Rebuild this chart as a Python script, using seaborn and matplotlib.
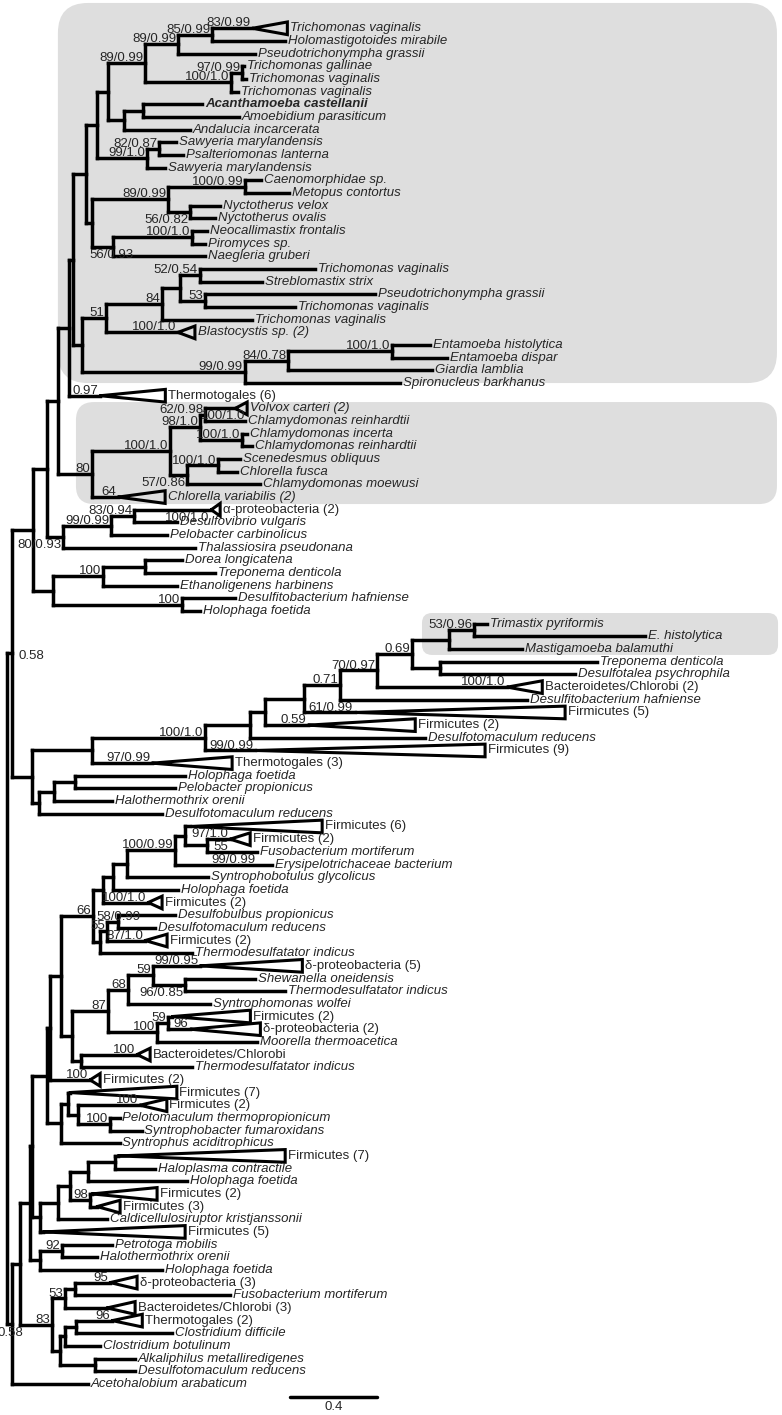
import re
import matplotlib
matplotlib.use("Agg")
import matplotlib.pyplot as plt
import pandas as pd
import seaborn as sns
from matplotlib import font_manager
from matplotlib.patches import FancyBboxPatch
from matplotlib.transforms import IdentityTransform

# Subtrees in Newick form, branch lengths in substitutions/site.
# [&...] comments hold support values (keyed by where they sit on the branch)
# and the depth of collapsed clades, FigTree style.
TRICHOMONADS = (
    "((((('Trichomonas vaginalis'[&collapsed=0.161,above=83/0.99]:0.184,"
    "'Holomastigotoides mirabile':0.336)[&above=85/0.99]:0.156,"
    "'Pseudotrichonympha grassii':0.354)[&above=89/0.99]:0.152,"
    "(('Trichomonas gallinae':0.009,'Trichomonas vaginalis':0.018)[&above=97/0.99]:0.051,"
    "'Trichomonas vaginalis':0.032)[&above=100/1.0]:0.395)[&above=89/0.99]:0.170,"
    "(('Acanthamoeba castellanii':0.271,'Amoebidium parasiticum':0.441):0.087,"
    "'Andalucia incarcerata':0.303):0.074):0.051,"
    "(('Sawyeria marylandensis':0.078,'Psalteriomonas lanterna':0.110)[&above=82/0.87]:0.055,"
    "'Sawyeria marylandensis':0.083)[&above=99/1.0]:0.230)"
)

CILIATES_FUNGI = (
    "((('Caenomorphidae sp.':0.074,'Metopus contortus':0.202)[&above=100/0.99]:0.354,"
    "('Nyctotherus velox':0.138,'Nyctotherus ovalis':0.115)[&below=56/0.82]:0.101)"
    "[&above=89/0.99]:0.349,"
    "(('Neocallimastix frontalis':0.069,'Piromyces sp.':0.060)[&above=100/1.0]:0.363,"
    "'Naegleria gruberi':0.423)[&under=56/0.93]:0.097)"
)

PARASITES = (
    "((((('Trichomonas vaginalis':0.529,'Streblomastix strix':0.285)[&above=52/0.54]:0.092,"
    "('Pseudotrichonympha grassii':0.782,'Trichomonas vaginalis':0.414)[&above=53]:0.115):0.083,"
    "'Trichomonas vaginalis':0.414)[&above=84]:0.257,"
    "'Blastocystis sp. (2)'[&collapsed=0.078,above=100/1.0]:0.331)[&above=51]:0.110,"
    "((('Entamoeba histolytica':0.175,'Entamoeba dispar':0.253)[&above=100/1.0]:0.478,"
    "'Giardia lamblia':0.662)[&above=84/0.78]:0.198,"
    "'Spironucleus barkhanus':0.713)[&above=99/0.99]:0.749)"
)

GREEN_ALGAE = (
    "(((('Volvox carteri (2)'[&collapsed=0.055,belowtip=100/1.0]:0.138,"
    "'Chlamydomonas reinhardtii':0.184)[&above=62/0.98]:0.023,"
    "('Chlamydomonas incerta':0.023,'Chlamydomonas reinhardtii':0.046)[&above=100/1.0]:0.193)"
    "[&above=98/1.0]:0.138,"
    "(('Scenedesmus obliquus':0.101,'Chlorella fusca':0.087)[&above=100/1.0]:0.143,"
    "'Chlamydomonas moewusi':0.336)[&below=57/0.86]:0.078)[&above=100/1.0]:0.359,"
    "'Chlorella variabilis (2)'[&collapsed=0.216,above=64]:0.120)[&above=80]"
)

PROTEOBACTERIA = (
    "((('α-proteobacteria (2)'[&collapsed=0.041,below=100/1.0]:0.354,"
    "'Desulfovibrio vulgaris':0.198)[&above=83/0.94]:0.106,"
    "'Pelobacter carbinolicus':0.257)[&above=99/0.99]:0.221,"
    "'Thalassiosira pseudonana':0.607)[&below=80/0.93]"
)

CLOSTRIDIA = (
    "((('Dorea longicatena':0.170,'Treponema denticola':0.322):0.193,"
    "'Ethanoligenens harbinens':0.340)[&above=100]:0.230,"
    "('Desulfitobacterium hafniense':0.244,'Holophaga foetida':0.083)[&above=100]:0.593)"
)

ARCHAMOEBAE_GROUP = (
    "((((((((((('Trimastix pyriformis':0.060,'E. histolytica':0.786)[&above=53/0.96]:0.115,"
    "'Mastigamoeba balamuthi':0.336):0.170,"
    "('Treponema denticola':0.722,'Desulfotalea psychrophila':0.621):0.129)[&above=0.69]:0.161,"
    "'Bacteroidetes/Chlorobi (2)'[&collapsed=0.161,above=100/1.0]:0.598)[&above=70/0.97]:0.170,"
    "'Desulfitobacterium hafniense':0.860)[&above=0.71]:0.166,"
    "'Firmicutes (5)'[&collapsed=0.966,above=61/0.99]:0.234):0.179,"
    "'Firmicutes (2)'[&collapsed=0.492,above=0.59]:0.198):0.069,"
    "'Desulfotomaculum reducens':0.805):0.207,"
    "'Firmicutes (9)'[&collapsed=1.057,above=99/0.99]:0.230)[&above=100/1.0]:0.520,"
    "'Thermotogales (3)'[&collapsed=0.368,above=97/0.99]:0.276):0.276,"
    "((('Holophaga foetida':0.506,'Pelobacter propionicus':0.460):0.097,"
    "'Halothermothrix orenii':0.267):0.069,'Desulfotomaculum reducens':0.566):0.032)"
)

FIRMICUTES_1 = (
    "((((((('Firmicutes (6)'[&collapsed=0.607]:0.023,"
    "('Firmicutes (2)'[&collapsed=0.092,above=97/1.0,below=55]:0.106,"
    "'Fusobacterium mortiferum'[&below=99/0.99]:0.230):0.101):0.046,"
    "'Erysipelotrichaceae bacterium':0.446)[&above=100/0.99]:0.221,"
    "'Syntrophobotulus glycolicus':0.372):0.064,'Holophaga foetida':0.299):0.046,"
    "'Firmicutes (2)'[&collapsed=0.064,above=100/1.0]:0.207):0.046,"
    "((('Desulfobulbus propionicus':0.262,'Desulfotomaculum reducens':0.170)[&top=58/0.99]:0.051,"
    "'Firmicutes (2)'[&collapsed=0.101,above=87/1.0]:0.175)[&above=55]:0.032,"
    "'Thermodesulfatator indicus':0.423):0.032)[&above=66]:0.147,"
    "(((('δ-proteobacteria (5)'[&collapsed=0.469,above=99/0.95]:0.216,"
    "('Shewanella oneidensis':0.322,'Thermodesulfatator indicus':0.460)[&below=96/0.85]:0.147)"
    "[&above=59]:0.115,'Syntrophomonas wolfei':0.377)[&above=68]:0.092,"
    "(('Firmicutes (2)'[&collapsed=0.359]:0.018,'δ-proteobacteria (2)'[&collapsed=0.322,above=96]:0.101)"
    "[&above=59]:0.051,'Moorella thermoacetica':0.460)[&above=100]:0.225)[&above=87]:0.166,"
    "('Bacteroidetes/Chlorobi'[&collapsed=0.060,above=100]:0.257,"
    "'Thermodesulfatator indicus':0.510):0.041):0.051)"
)

FIRMICUTES_2 = (
    "(('Firmicutes (7)'[&collapsed=0.492]:0.009,"
    "('Firmicutes (2)'[&collapsed=0.124,above=100]:0.285,"
    "('Pelotomaculum thermopropionicum':0.046,'Syntrophobacter fumaroxidans':0.147)[&above=100]:0.147)"
    ":0.046):0.032,'Syntrophus aciditrophicus':0.271)"
)

FIRMICUTES_3 = (
    "((((('Firmicutes (7)'[&collapsed=0.768]:0.014,'Haloplasma contractile':0.184):0.124,"
    "'Holophaga foetida':0.455):0.083,"
    "('Firmicutes (2)'[&collapsed=0.299]:0.009,'Firmicutes (3)'[&collapsed=0.106]:0.032)[&above=98]:0.092)"
    ":0.055,'Caldicellulosiruptor kristjanssonii':0.225):0.083,"
    "'Firmicutes (5)'[&collapsed=0.653]:0.014)"
)

FIRMICUTES_4 = (
    "(('Petrotoga mobilis':0.230,'Halothermothrix orenii':0.161)[&above=92]:0.101,"
    "'Holophaga foetida':0.561)"
)

FIRMICUTES_5 = (
    "((('δ-proteobacteria (3)'[&collapsed=0.124,above=95]:0.161,'Fusobacterium mortiferum':0.713):0.046,"
    "'Bacteroidetes/Chlorobi (3)'[&collapsed=0.129]:0.193)[&above=53]:0.060,"
    "((('Thermotogales (2)'[&collapsed=0.138,above=96]:0.166,'Clostridium difficile':0.441):0.051,"
    "'Clostridium botulinum':0.161):0.023,"
    "('Alkaliphilus metalliredigenes':0.184,'Desulfotomaculum reducens':0.184):0.161):0.037)[&above=83]"
)

BACKBONE = (
    "(((((((({tri}:0.051,{cil}:0.028):0.060,{par}:0.041):0.018,"
    "'Thermotogales (6)'[&collapsed=0.299,above=0.97]:0.143):0.051,{green}:0.156):0.051,"
    "{proteo}:0.074):0.064,{clos}:0.092):0.097,{arch}:0.092)[&right=0.58]:0.023,"
    "(((((({f1}:0.051,'Firmicutes (2)'[&collapsed=0.046,above=100]:0.184):0.014,{f2}:0.064):0.069,"
    "{f3}:0.037):0.009,{f4}:0.046):0.046,{f5}:0.147):0.037,"
    "'Acetohalobium arabaticum':0.349)[&under=0.58]:0.023);"
)

ROMAN_TAXA = ["Thermotogales", "Firmicutes", "Bacteroidetes/Chlorobi",
              "α-proteobacteria", "δ-proteobacteria"]
BOLD_TAXA = ["Acanthamoeba castellanii"]
SCALE_BAR = 0.4

# shaded clades: x left, x right, top row, bottom row, corner radius (px)
HIGHLIGHTS = [(0.234, 3.54, -2.0, 28.0, 30),
              (0.317, 3.54, 29.5, 37.55, 18),
              (1.908, 3.545, 46.15, 49.46, 10)]


def parse_newick(s):
    pos = 0

    def node():
        nonlocal pos
        n = {"children": [], "name": "", "len": 0.0, "meta": {}}
        if s[pos] == "(":
            pos += 1
            while True:
                n["children"].append(node())
                if s[pos] == ",":
                    pos += 1
                    continue
                pos += 1
                break
        if s[pos] == "'":
            end = s.index("'", pos + 1)
            n["name"] = s[pos + 1:end]
            pos = end + 1
        if s[pos] == "[":
            end = s.index("]", pos)
            for item in s[pos + 2:end].split(","):
                k, _, v = item.partition("=")
                if v:
                    n["meta"][k] = v
            pos = end + 1
        if s[pos] == ":":
            m = re.match(r":([0-9.]+)", s[pos:])
            n["len"] = float(m.group(1))
            pos += m.end()
        return n

    return node()


tree = parse_newick(BACKBONE.format(
    tri=TRICHOMONADS, cil=CILIATES_FUNGI, par=PARASITES, green=GREEN_ALGAE,
    proteo=PROTEOBACTERIA, clos=CLOSTRIDIA, arch=ARCHAMOEBAE_GROUP,
    f1=FIRMICUTES_1, f2=FIRMICUTES_2, f3=FIRMICUTES_3, f4=FIRMICUTES_4, f5=FIRMICUTES_5))

row = [0]


def layout(n, x0):
    n["x"] = x0 + n["len"]
    if n["children"]:
        for c in n["children"]:
            layout(c, n["x"])
        n["y"] = (n["children"][0]["y"] + n["children"][-1]["y"]) / 2
    else:
        n["y"] = row[0]
        row[0] += 1


layout(tree, 0.0)

branches, triangles, leaves, supports = [], [], [], []
PLACES = ("above", "below", "belowtip", "right", "under", "top")


def collect(n, px=None):
    x, y, meta = n["x"], n["y"], n["meta"]
    if px is not None:
        branches.append([(px, y), (x, y)])
    if n["children"]:
        branches.append([(x, n["children"][0]["y"]), (x, n["children"][-1]["y"])])
        for c in n["children"]:
            collect(c, x)
    tip = x
    if "collapsed" in meta:
        d = float(meta["collapsed"])
        triangles.append([(x, y), (x + d, y - 0.5), (x + d, y + 0.5), (x, y)])
        tip = x + d
    if not n["children"]:
        leaves.append((tip, y, n["name"]))
    for where in PLACES:
        if where in meta:
            supports.append((tip if where == "belowtip" else x, y, meta[where], where))


collect(tree)


def to_frame(lines):
    return pd.DataFrame([(i, a, b) for i, ln in enumerate(lines) for a, b in ln],
                        columns=["seg", "x", "y"])


sns.set_style("white")
installed = {f.name for f in font_manager.fontManager.ttflist}
if "Liberation Sans Narrow" in installed:
    plt.rcParams["font.family"] = ["Liberation Sans Narrow", "DejaVu Sans"]
    FS = 11.5
else:
    plt.rcParams["font.family"] = ["Liberation Sans", "DejaVu Sans"]
    FS = 9.5

fig = plt.figure(figsize=(7.82, 14.15), dpi=100)
ax = fig.add_axes([0, 0, 1, 1])

sns.lineplot(data=to_frame(branches), x="x", y="y", units="seg", estimator=None,
             sort=False, color="black", linewidth=2.5, solid_capstyle="projecting",
             legend=False, ax=ax)
sns.lineplot(data=to_frame(triangles), x="x", y="y", units="seg", estimator=None,
             sort=False, color="black", linewidth=2.2, solid_joinstyle="miter",
             solid_capstyle="round", legend=False, ax=ax)

pad = 0.012
for x, y, name in leaves:
    roman = any(name.startswith(t) for t in ROMAN_TAXA)
    ax.text(x + pad, y, name, fontsize=FS, va="center", ha="left",
            style="normal" if roman else "italic",
            weight="bold" if name in BOLD_TAXA else "normal")

for x, y, txt, where in supports:
    if where in ("below", "belowtip"):
        ax.text(x - 0.009, y + 0.15, txt, fontsize=FS, ha="right", va="top")
    elif where == "right":
        ax.text(x + 0.028, y + 0.2, txt, fontsize=FS, ha="left", va="center")
    elif where == "under":
        ax.text(x - 0.009, y + 0.2, txt, fontsize=FS, ha="center", va="top")
    elif where == "top":
        ax.text(x, y - 0.15, txt, fontsize=FS, ha="center", va="baseline")
    else:
        ax.text(x - 0.009, y - 0.15, txt, fontsize=FS, ha="right", va="baseline")

# scale bar
sx = 1.301
ax.plot([sx, sx + SCALE_BAR], [108.03, 108.03], color="black", lw=2.5)
ax.text(sx + SCALE_BAR / 2, 108.35, f"{SCALE_BAR}", fontsize=FS, ha="center", va="top")

ax.set_xlim(-0.0322, 3.5632)
ax.set_ylim(109.45, -2.234)
ax.axis("off")

for x0, x1, r0, r1, rad in HIGHLIGHTS:
    (p0x, p0y) = ax.transData.transform((x0, r1))
    (p1x, p1y) = ax.transData.transform((x1, r0))
    ax.add_patch(FancyBboxPatch((p0x, p0y), p1x - p0x, p1y - p0y,
                                boxstyle=f"round,pad=0,rounding_size={rad}",
                                transform=IdentityTransform(), fc="#dedede",
                                ec="none", zorder=0))

ax.set_xlim(-0.0322, 3.5632)
ax.set_ylim(109.45, -2.234)
fig.savefig("out.png", dpi=100)
